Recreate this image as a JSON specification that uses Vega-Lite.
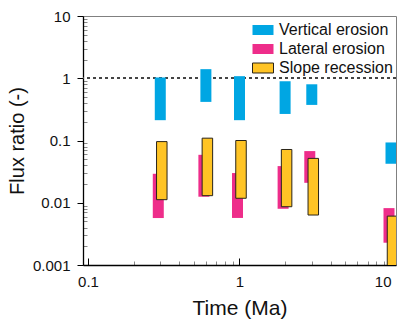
{
  "$schema": "https://vega.github.io/schema/vega-lite/v6.json",
  "autosize": {"type": "none"},
  "padding": {"left": 83, "top": 16, "right": 1, "bottom": 59},
  "width": 313,
  "height": 249,
  "config": {
    "font": "Liberation Sans",
    "view": {"stroke": "#808080", "strokeWidth": 1}
  },
  "data": {
    "values": [
      {"series": "Vertical erosion", "time": 0.3, "low": 0.212, "high": 1.03},
      {"series": "Vertical erosion", "time": 0.6, "low": 0.417, "high": 1.4},
      {"series": "Vertical erosion", "time": 1, "low": 0.212, "high": 1.08},
      {"series": "Vertical erosion", "time": 2, "low": 0.267, "high": 0.895},
      {"series": "Vertical erosion", "time": 3, "low": 0.373, "high": 0.8},
      {"series": "Vertical erosion", "time": 10, "low": 0.0423, "high": 0.093},
      {"series": "Lateral erosion", "time": 0.3, "low": 0.00568, "high": 0.0292},
      {"series": "Lateral erosion", "time": 0.6, "low": 0.0125, "high": 0.0589},
      {"series": "Lateral erosion", "time": 1, "low": 0.0057, "high": 0.03},
      {"series": "Lateral erosion", "time": 2, "low": 0.008, "high": 0.0388},
      {"series": "Lateral erosion", "time": 3, "low": 0.0209, "high": 0.0676},
      {"series": "Lateral erosion", "time": 10, "low": 0.00228, "high": 0.0082},
      {"series": "Slope recession", "time": 0.3, "low": 0.0112, "high": 0.096},
      {"series": "Slope recession", "time": 0.6, "low": 0.013, "high": 0.109},
      {"series": "Slope recession", "time": 1, "low": 0.0118, "high": 0.1},
      {"series": "Slope recession", "time": 2, "low": 0.00863, "high": 0.0717},
      {"series": "Slope recession", "time": 3, "low": 0.00635, "high": 0.0516},
      {"series": "Slope recession", "time": 10, "low": 0.0009, "high": 0.0061}
    ]
  },
  "layer": [
    {
      "mark": {"type": "rule", "strokeDash": [3, 3], "color": "#444444", "strokeWidth": 1},
      "encoding": {"y": {"datum": 1, "type": "quantitative"}}
    },
    {
      "encoding": {
        "x": {
          "field": "time", "type": "quantitative",
          "scale": {"type": "log", "domain": [0.1, 10], "nice": false},
          "axis": {
            "title": "Time (Ma)",
            "values": [0.1, 0.2, 0.3, 0.4, 0.5, 0.6, 0.7, 0.8, 0.9, 1, 2, 3, 4, 5, 6, 7, 8, 9, 10],
            "format": "~g",
            "labelExpr": "datum.value == 0.1 || datum.value == 1 || datum.value == 10 ? datum.label : ''",
            "labelOverlap": false,
            "labelBound": false,
            "labelFlush": false,
            "labelAlign": {"condition": {"test": "datum.value >= 10", "value": "right"}, "value": "center"},
            "labelFontSize": 15,
            "labelColor": "#111111",
            "labelPadding": 16,
            "tickSize": {"condition": {"test": "datum.value == 0.1 || datum.value == 1 || datum.value == 10", "value": -7}, "value": -4},
            "tickColor": {"condition": {"test": "datum.value == 0.1 || datum.value == 1 || datum.value == 10", "value": "#000000"}, "value": "#888888"},
            "domainColor": "#000000",
            "domainWidth": 1.3,
            "grid": false,
            "titleFontSize": 21,
            "titleFontWeight": "normal",
            "titleColor": "#111111",
            "titlePadding": 5
          }
        },
        "y": {
          "field": "low", "type": "quantitative",
          "scale": {"type": "log", "domain": [0.001, 10], "nice": false},
          "axis": {
            "title": "Flux ratio (-)",
            "values": [0.001, 0.002, 0.003, 0.004, 0.005, 0.006, 0.007, 0.008, 0.009, 0.01, 0.02, 0.03, 0.04, 0.05, 0.06, 0.07, 0.08, 0.09, 0.1, 0.2, 0.3, 0.4, 0.5, 0.6, 0.7, 0.8, 0.9, 1, 2, 3, 4, 5, 6, 7, 8, 9, 10],
            "format": "~g",
            "labelExpr": "datum.value == 0.001 || datum.value == 0.01 || datum.value == 0.1 || datum.value == 1 || datum.value == 10 ? datum.label : ''",
            "labelOverlap": false,
            "labelBound": false,
            "labelFlush": false,
            "labelFontSize": 15,
            "labelColor": "#111111",
            "labelPadding": 7,
            "tickSize": {"condition": {"test": "datum.value == 0.001 || datum.value == 0.01 || datum.value == 0.1 || datum.value == 1 || datum.value == 10", "value": 6}, "value": -4},
            "tickColor": {"condition": {"test": "datum.value == 0.001 || datum.value == 0.01 || datum.value == 0.1 || datum.value == 1 || datum.value == 10", "value": "#000000"}, "value": "#888888"},
            "domainColor": "#000000",
            "domainWidth": 1.3,
            "grid": false,
            "titleFontSize": 20,
            "titleFontWeight": "normal",
            "titleColor": "#111111",
            "titlePadding": 5
          }
        },
        "y2": {"field": "high"},
        "fill": {
          "field": "series", "type": "nominal",
          "scale": {"domain": ["Vertical erosion", "Lateral erosion", "Slope recession"], "range": ["#00A6E3", "#EE2D8A", "#FFC425"]},
          "legend": {
            "title": null, "orient": "none", "legendX": 169, "legendY": 3,
            "symbolType": "M-1,-0.476H1V0.476H-1Z", "symbolSize": 441,
            "symbolStrokeWidth": 1,
            "labelFontSize": 16, "labelOffset": 5, "labelColor": "#111111",
            "rowPadding": -2, "padding": 0
          }
        },
        "stroke": {
          "field": "series", "type": "nominal",
          "scale": {"domain": ["Vertical erosion", "Lateral erosion", "Slope recession"], "range": ["transparent", "transparent", "#2a2418"]},
          "legend": {
            "title": null, "orient": "none", "legendX": 169, "legendY": 3,
            "symbolType": "M-1,-0.476H1V0.476H-1Z", "symbolSize": 441,
            "symbolStrokeWidth": 1,
            "labelFontSize": 16, "labelOffset": 5, "labelColor": "#111111",
            "rowPadding": -2, "padding": 0
          }
        }
      },
      "layer": [
        {
          "transform": [{"filter": "datum.series === 'Vertical erosion'"}],
          "mark": {"type": "bar", "width": 11, "xOffset": 0, "clip": true, "strokeWidth": 1}
        },
        {
          "transform": [{"filter": "datum.series === 'Lateral erosion'"}],
          "mark": {"type": "bar", "width": 11, "xOffset": -2, "clip": true, "strokeWidth": 1}
        },
        {
          "transform": [{"filter": "datum.series === 'Slope recession'"}],
          "mark": {"type": "bar", "width": 10.5, "xOffset": 1.5, "clip": true, "strokeWidth": 1}
        }
      ]
    }
  ]
}
